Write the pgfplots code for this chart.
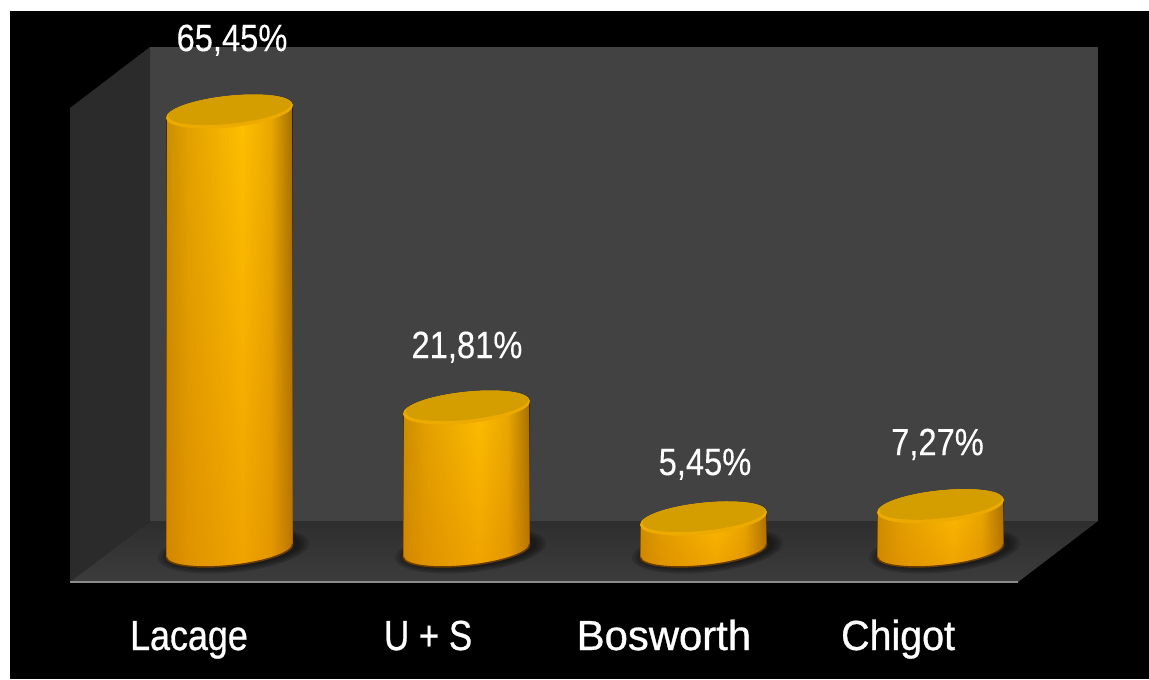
\documentclass[border=0pt]{standalone}
\usepackage{fontspec}
\usepackage{pgfplots}
\pgfplotsset{compat=1.18}
\usetikzlibrary{fadings}
\setmainfont[FakeStretch=0.86,FakeBold=0.25]{Liberation Sans}
\newfontfamily\catfont[FakeStretch=0.83,FakeBold=0.7]{Liberation Sans}

\definecolor{wallback}{HTML}{424242}
\definecolor{wallleft}{HTML}{2B2B2B}
\definecolor{floorback}{HTML}{2E2E2E}
\definecolor{floorfront}{HTML}{3C3C3C}
\definecolor{floorline}{HTML}{8C8C8C}
\definecolor{cylrim}{HTML}{EDAA00}
\definecolor{cyltop}{HTML}{D49D00}
\definecolor{cyllow}{HTML}{DC8000}
\definecolor{cylshade}{HTML}{6B3C00}
\definecolor{cyledgeL}{HTML}{C98E00}
\definecolor{cylmidL}{HTML}{E3A300}
\definecolor{cylmid}{HTML}{FFC000}
\definecolor{cylmidR}{HTML}{EBAA00}
\definecolor{cyledgeR}{HTML}{A06C00}

\pgfdeclarehorizontalshading{cylside}{100bp}{
  color(0bp)=(cyledgeL);
  color(25bp)=(cyledgeL);
  color(34bp)=(cylmidL);
  color(55bp)=(cylmid);
  color(66bp)=(cylmidR);
  color(75bp)=(cyledgeR);
  color(100bp)=(cyledgeR)}

% An empty plot mark: the cylinder itself is drawn by the marker code below.
\pgfdeclareplotmark{nil}{}

% Half of an ellipse tilted by 6 degrees, as two Bezier segments: centre #1,#2,
% half axes #3,#4. Positive axes give the upper half running right to left,
% negative axes the lower half running left to right.
\newcommand{\halfell}[4]{
  ({(#1)+(#3)*0.9945},{(#2)+(#3)*0.1045})
  .. controls ({(#1)+(#3)*0.9945-(#4)*0.0577},{(#2)+(#3)*0.1045+(#4)*0.5493})
  and ({(#1)+(#3)*0.5493-(#4)*0.1045},{(#2)+(#3)*0.0577+(#4)*0.9945})
  .. ({(#1)-(#4)*0.1045},{(#2)+(#4)*0.9945})
  .. controls ({(#1)-(#3)*0.5493-(#4)*0.1045},{(#2)-(#3)*0.0577+(#4)*0.9945})
  and ({(#1)-(#3)*0.9945-(#4)*0.0577},{(#2)-(#3)*0.1045+(#4)*0.5493})
  .. ({(#1)-(#3)*0.9945},{(#2)-(#3)*0.1045})}
\newcommand{\fullell}[4]{\halfell{#1}{#2}{#3}{#4} -- \halfell{#1}{#2}{-(#3)}{-(#4)} -- cycle}

% Outline of the cylinder side: lower half of the base, upper half of the top.
\newcommand{\cylbody}{\halfell{0}{-\cylH}{-63.5}{-15} -- \halfell{0}{0}{63.5}{15} -- cycle}

\begin{document}
\begin{tikzpicture}
\path[use as bounding box] (0,0) rectangle (861.75pt,509.25pt);

% Page and the three faces of the chart box, in pixel units from the top left
\begin{scope}[x=0.75pt,y=-0.75pt,yshift=509.25pt]
  \fill[white] (0,0) rectangle (1149,679);
  \fill[black] (10,11) rectangle (1149,679);
  \fill[wallback] (150,47) rectangle (1098,521);
  \fill[wallleft] (70,108) -- (150,47) -- (150,521) -- (70,582) -- cycle;
  \shade[top color=floorback,bottom color=floorfront]
    (150,521) -- (1098,521) -- (1018,582) -- (70,582) -- cycle;
\end{scope}

\begin{axis}[
  at={(52.5pt,72.75pt)}, anchor=south west,
  scale only axis, width=711pt, height=401.25pt,
  xmin=-0.673, xmax=3.327, ymin=-3.907, ymax=74.97,
  clip=false,
  axis x line*=bottom,
  hide y axis,
  x axis line style={draw=floorline,line width=1.9pt},
  xtick={-0.171,0.838,1.833,2.821},
  xticklabels={\scalebox{1.03}[1]{Lacage},U + S,\scalebox{1.2}[1]{Bosworth},\scalebox{1.13}[1]{Chigot}},
  major tick length=0pt,
  xticklabel style={text=white,anchor=base,yshift=-51pt,
    font=\catfont\fontsize{31.5}{33}\selectfont},
]
% The cylinders, each reaching up to its share
\addplot[
  scatter, only marks, mark=nil,
  point meta=y,
  visualization depends on={value \thisrow{v} \as \val},
  scatter/@pre marker code/.code={%
    \begingroup
    \tikzset{x=0.75pt,y=0.75pt}%
    \pgfmathsetmacro\cylH{\val*6.783-4.9}%
    % soft contact shadow on the floor
    \foreach \k in {5,4,...,1}{
      \fill[black,opacity=0.11] \fullell{4}{-\cylH}{63.5+2.4*\k}{15+1.3*\k};
    }
    % cylinder side, with the warmer tone towards the base
    \shade[shading=cylside] \cylbody;
    \fill[cyllow,fill opacity=0.45,path fading=north,fit fading=true] \cylbody;
    % dark line along the foot
    \draw[cylshade,line width=1.1pt] \halfell{0}{-\cylH}{-63.5}{-15};
    % top face with its lighter rim
    \fill[cylrim] \fullell{0}{0}{63.5}{15.5};
    \fill[cyltop] \fullell{0.3}{1.8}{61.5}{13.6};
    \endgroup
  },
  scatter/@post marker code/.code={},
] table[x=i,y=v] {
i v
0 65.45
1 21.81
2 5.45
3 7.27
};

% The value labels above them, with their offsets in pixels
\addplot[
  scatter, only marks, mark=nil,
  point meta=y,
  visualization depends on={value \thisrow{dx} \as \labdx},
  visualization depends on={value \thisrow{dy} \as \labdy},
  nodes near coords={\pgfmathprintnumber[use comma,fixed,fixed zerofill,precision=2,/pgf/number format/assume math mode=true]{\pgfplotspointmeta}\%},
  every node near coord/.append style={
    anchor=base,text=white,inner sep=0pt,
    font=\fontsize{28.5}{30}\selectfont,
    xshift=\labdx*0.75pt,yshift=\labdy*0.75pt},
] table[x=i,y=v] {
i v dx dy
0 65.45 2.5 60.5
1 21.81 0.5 49.5
2 5.45 1.5 43.5
3 7.27 -3 51
};
\end{axis}
\end{tikzpicture}
\end{document}
